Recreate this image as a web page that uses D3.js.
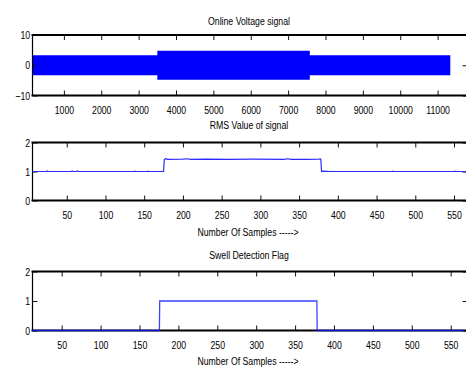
<!DOCTYPE html>
<html><head><meta charset="utf-8">
<script src="https://cdn.jsdelivr.net/npm/d3@7"></script>
<style>
html,body{margin:0;padding:0;background:#fff;}
svg{display:block;}
text{font-family:"Liberation Sans",Arial,sans-serif;font-size:11.5px;fill:#000;}
</style></head>
<body>
<script>
// ---- data ----
// Online voltage signal: envelope (amplitude) of the dense sinusoid, per segment
const voltSegStart = [1, 3500, 7580];
const voltSegEnd   = [3500, 7580, 11340];
const voltAmp      = [3.3, 4.8, 3.3];
const voltXTicks = [1000,2000,3000,4000,5000,6000,7000,8000,9000,10000,11000];
const voltYTicks = [-10, 0, 10];

// RMS value of signal (sample index, value)
const rmsX = [1, 24, 25, 26, 56, 57, 58, 63, 64, 65, 137, 138, 139, 154, 155, 156, 175, 176, 178, 180, 200, 205, 210, 230, 260, 290, 330, 335, 340, 360, 376, 377, 378, 379, 381, 390, 470, 471, 472, 550, 551, 552, 567];
const rmsY = [1.0, 1.0, 1.02, 1.0, 1.0, 1.02, 1.0, 1.0, 1.02, 1.0, 1.0, 1.01, 1.0, 1.0, 1.01, 1.0, 1.0, 1.42, 1.44, 1.42, 1.43, 1.44, 1.42, 1.43, 1.42, 1.43, 1.42, 1.44, 1.42, 1.42, 1.43, 1.44, 1.42, 1.0, 1.01, 1.0, 1.0, 1.01, 1.0, 1.0, 1.01, 1.0, 1.0];

// Swell detection flag
const flagX = [1, 175.6, 176, 378, 378.4, 567];
const flagY = [0, 0, 1, 1, 0, 0];

const sampleXTicks = [50,100,150,200,250,300,350,400,450,500,550];
const smallYTicks = [0, 1, 2];

const titles = ["Online Voltage signal", "RMS Value of signal", "Swell Detection Flag"];
const xLabel = "Number Of Samples ----->";

// ---- layout ----
const W = 466, H = 367;
const svg = d3.select("body").append("svg").attr("width", W).attr("height", H);
const SX = 0.76;

function txt(x, y, s, anchor) {
  svg.append("text").attr("transform", `translate(${x},${y}) scale(${SX},1)`)
    .attr("text-anchor", anchor || "middle").text(s);
}

function frame(cfg) {
  const {x, y, xTicks, yTicks} = cfg;
  const [l, r] = x.range();
  const [b, t] = y.range();
  const g = svg.append("g");
  const styleAxis = (sel) => {
    sel.select(".domain").remove();
    sel.selectAll("line").attr("stroke", "#111").attr("stroke-width", 1);
    sel.selectAll("text").style("font-family", '"Liberation Sans",Arial,sans-serif')
      .style("font-size", "11.5px").attr("fill", "#000");
  };
  g.append("g").attr("transform", `translate(0,${b})`)
    .call(d3.axisBottom(x).tickValues(xTicks).tickSize(-5).tickPadding(10).tickFormat(d3.format("d")))
    .call(styleAxis).selectAll("text").attr("transform", `scale(${SX},1)`).attr("dy", "0.71em");
  g.append("g").attr("transform", `translate(0,${t})`)
    .call(d3.axisTop(x).tickValues(xTicks).tickSize(-5).tickFormat(""))
    .call(styleAxis);
  g.append("g").attr("transform", `translate(${l},0)`)
    .call(d3.axisLeft(y).tickValues(yTicks).tickSize(-5).tickPadding(3).tickFormat(d3.format("d")))
    .call(styleAxis).selectAll("text").attr("transform", `scale(${SX},1)`);
  g.append("g").attr("transform", `translate(${r},0)`)
    .call(d3.axisRight(y).tickValues(yTicks).tickSize(-5).tickFormat(""))
    .call(styleAxis);
  return g;
}

function border(x, y) {
  const [l, r] = x.range();
  const [b, t] = y.range();
  const g = svg.append("g");
  g.append("line").attr("x1", l - 1).attr("x2", r).attr("y1", t).attr("y2", t).attr("stroke", "#000").attr("stroke-width", 1.8);
  g.append("line").attr("x1", l - 1).attr("x2", r).attr("y1", b).attr("y2", b).attr("stroke", "#000").attr("stroke-width", 1.8);
  g.append("line").attr("x1", l).attr("x2", l).attr("y1", t).attr("y2", b).attr("stroke", "#000").attr("stroke-width", 1.2);
}

function clip(id, x, y) {
  const [l, r] = x.range();
  const [b, t] = y.range();
  svg.append("clipPath").attr("id", id).append("rect")
    .attr("x", l).attr("y", t - 2).attr("width", r - l).attr("height", b - t + 4);
}

// ---- plot 1: voltage ----
const x1 = d3.scaleLinear().domain([160, 11800]).range([32.5, 467.5]);
const y1 = d3.scaleLinear().domain([-10, 10]).range([95.5, 35]);
clip("c1", x1, y1);
const env = [];
voltSegStart.forEach((s, i) => { env.push({x: s, a: voltAmp[i]}); env.push({x: voltSegEnd[i], a: voltAmp[i]}); });
svg.append("path").attr("clip-path", "url(#c1)")
  .datum(env)
  .attr("d", d3.area().x(d => x1(d.x)).y0(d => y1(-d.a)).y1(d => y1(d.a)))
  .attr("fill", "#0000ff");
frame({x: x1, y: y1, xTicks: voltXTicks, yTicks: voltYTicks});
border(x1, y1);
txt(249, 25, titles[0]);

// ---- plot 2: RMS ----
const x2 = d3.scaleLinear().domain([5.8, 567.4]).range([32.5, 467.5]);
const y2 = d3.scaleLinear().domain([0, 2]).range([200.5, 142.5]);
clip("c2", x2, y2);
frame({x: x2, y: y2, xTicks: sampleXTicks, yTicks: smallYTicks});
border(x2, y2);
svg.append("path").attr("clip-path", "url(#c2)")
  .datum(rmsX.map((v, i) => [v, rmsY[i]]))
  .attr("d", d3.line().x(d => x2(d[0])).y(d => y2(d[1])))
  .attr("fill", "none").attr("stroke", "#2a2aff").attr("stroke-width", 1.2);
txt(249, 129, titles[1]);
txt(248, 236, xLabel);

// ---- plot 3: flag ----
const x3 = d3.scaleLinear().domain([12.5, 571.6]).range([32.5, 467.5]);
const y3 = d3.scaleLinear().domain([0, 2]).range([330.5, 271.5]);
clip("c3", x3, y3);
frame({x: x3, y: y3, xTicks: sampleXTicks, yTicks: smallYTicks});
border(x3, y3);
svg.append("path").attr("clip-path", "url(#c3)")
  .datum(flagX.map((v, i) => [v, flagY[i]]))
  .attr("d", d3.line().x(d => x3(d[0])).y(d => y3(d[1])))
  .attr("fill", "none").attr("stroke", "#1010ff").attr("stroke-opacity", 0.8).attr("stroke-width", 1.3);
txt(249, 259, titles[2]);
txt(248, 365, xLabel);
</script>
</body></html>
